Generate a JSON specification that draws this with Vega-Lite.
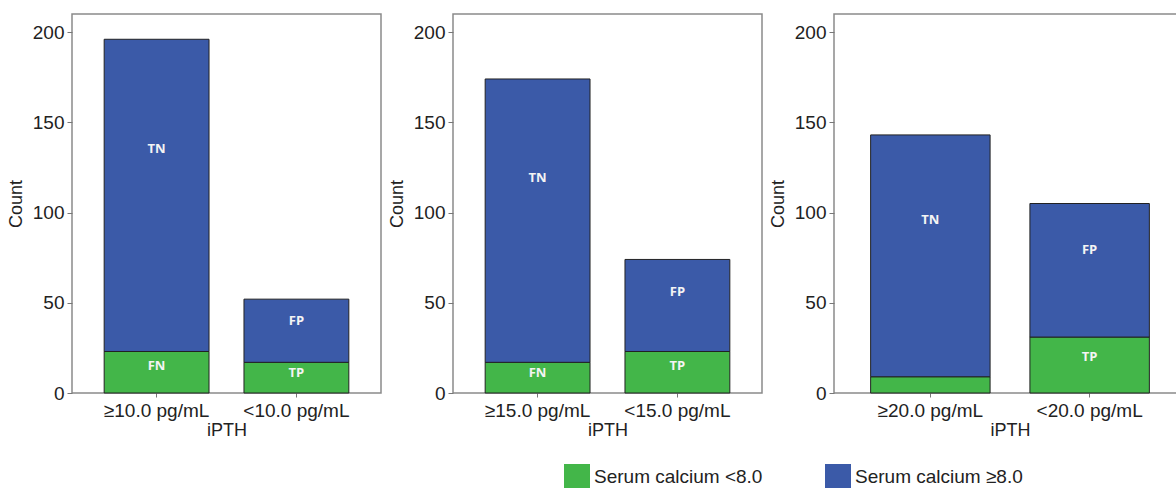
{
  "$schema": "https://vega.github.io/schema/vega-lite/v6.json",
  "padding": {"left": 6, "top": 13, "right": 0, "bottom": 0},
  "data": {"values": [
    {"panel": 1, "cat": "≥10.0 pg/mL", "calcium": "Serum calcium <8.0", "count": 23, "label": "FN", "order": 1},
    {"panel": 1, "cat": "≥10.0 pg/mL", "calcium": "Serum calcium ≥8.0", "count": 173, "label": "TN", "order": 2},
    {"panel": 1, "cat": "<10.0 pg/mL", "calcium": "Serum calcium <8.0", "count": 17, "label": "TP", "order": 1},
    {"panel": 1, "cat": "<10.0 pg/mL", "calcium": "Serum calcium ≥8.0", "count": 35, "label": "FP", "order": 2},
    {"panel": 2, "cat": "≥15.0 pg/mL", "calcium": "Serum calcium <8.0", "count": 17, "label": "FN", "order": 1},
    {"panel": 2, "cat": "≥15.0 pg/mL", "calcium": "Serum calcium ≥8.0", "count": 157, "label": "TN", "order": 2},
    {"panel": 2, "cat": "<15.0 pg/mL", "calcium": "Serum calcium <8.0", "count": 23, "label": "TP", "order": 1},
    {"panel": 2, "cat": "<15.0 pg/mL", "calcium": "Serum calcium ≥8.0", "count": 51, "label": "FP", "order": 2},
    {"panel": 3, "cat": "≥20.0 pg/mL", "calcium": "Serum calcium <8.0", "count": 9, "label": "", "order": 1},
    {"panel": 3, "cat": "≥20.0 pg/mL", "calcium": "Serum calcium ≥8.0", "count": 134, "label": "TN", "order": 2},
    {"panel": 3, "cat": "<20.0 pg/mL", "calcium": "Serum calcium <8.0", "count": 31, "label": "TP", "order": 1},
    {"panel": 3, "cat": "<20.0 pg/mL", "calcium": "Serum calcium ≥8.0", "count": 74, "label": "FP", "order": 2}
  ]},
  "transform": [
    {"stack": "count", "groupby": ["panel", "cat"], "sort": [{"field": "order"}], "as": ["y0", "y1"]},
    {"calculate": "datum.y0 + 0.65 * (datum.y1 - datum.y0)", "as": "ly"}
  ],
  "spacing": 5,
  "resolve": {"scale": {"color": "shared"}, "legend": {"color": "shared"}},
  "hconcat": [
    {
      "width": 309, "height": 379,
      "transform": [{"filter": "datum.panel == 1"}],
      "encoding": {"x": {"field": "cat", "type": "nominal", "sort": ["≥10.0 pg/mL", "<10.0 pg/mL"], "title": "iPTH", "scale": {"paddingInner": 0.25, "paddingOuter": 0.23}}},
      "layer": [
        {"mark": {"type": "bar", "stroke": "#222", "strokeWidth": 1},
         "encoding": {
           "y": {"field": "y0", "type": "quantitative", "scale": {"domain": [0, 210], "nice": false}, "title": "Count", "axis": {"values": [0, 50, 100, 150, 200]}},
           "y2": {"field": "y1"},
           "color": {"field": "calcium", "type": "nominal", "scale": {"domain": ["Serum calcium <8.0", "Serum calcium ≥8.0"], "range": ["#43b649", "#3b5aa8"]}}
         }},
        {"mark": {"type": "text", "color": "#f4f4f4", "fontWeight": "bold", "fontSize": 13, "font": "Open Sans"},
         "encoding": {"y": {"field": "ly", "type": "quantitative"}, "text": {"field": "label"}}}
      ]
    },
    {
      "width": 309, "height": 379,
      "transform": [{"filter": "datum.panel == 2"}],
      "encoding": {"x": {"field": "cat", "type": "nominal", "sort": ["≥15.0 pg/mL", "<15.0 pg/mL"], "title": "iPTH", "scale": {"paddingInner": 0.25, "paddingOuter": 0.23}}},
      "layer": [
        {"mark": {"type": "bar", "stroke": "#222", "strokeWidth": 1},
         "encoding": {
           "y": {"field": "y0", "type": "quantitative", "scale": {"domain": [0, 210], "nice": false}, "title": "Count", "axis": {"values": [0, 50, 100, 150, 200]}},
           "y2": {"field": "y1"},
           "color": {"field": "calcium", "type": "nominal", "scale": {"domain": ["Serum calcium <8.0", "Serum calcium ≥8.0"], "range": ["#43b649", "#3b5aa8"]}}
         }},
        {"mark": {"type": "text", "color": "#f4f4f4", "fontWeight": "bold", "fontSize": 13, "font": "Open Sans"},
         "encoding": {"y": {"field": "ly", "type": "quantitative"}, "text": {"field": "label"}}}
      ]
    },
    {
      "width": 352, "height": 379,
      "transform": [{"filter": "datum.panel == 3"}],
      "encoding": {"x": {"field": "cat", "type": "nominal", "sort": ["≥20.0 pg/mL", "<20.0 pg/mL"], "title": "iPTH", "scale": {"paddingInner": 0.25, "paddingOuter": 0.23}}},
      "layer": [
        {"mark": {"type": "bar", "stroke": "#222", "strokeWidth": 1},
         "encoding": {
           "y": {"field": "y0", "type": "quantitative", "scale": {"domain": [0, 210], "nice": false}, "title": "Count", "axis": {"values": [0, 50, 100, 150, 200]}},
           "y2": {"field": "y1"},
           "color": {"field": "calcium", "type": "nominal", "scale": {"domain": ["Serum calcium <8.0", "Serum calcium ≥8.0"], "range": ["#43b649", "#3b5aa8"]}}
         }},
        {"mark": {"type": "text", "color": "#f4f4f4", "fontWeight": "bold", "fontSize": 13, "font": "Open Sans"},
         "encoding": {"y": {"field": "ly", "type": "quantitative"}, "text": {"field": "label"}}}
      ]
    }
  ],
  "config": {
    "font": "Liberation Sans",
    "view": {"stroke": "#8a8a8a", "strokeWidth": 1.5},
    "axis": {"grid": false, "domain": false, "labelFontSize": 19, "titleFontSize": 18, "titleFontWeight": "normal", "labelColor": "#222", "titleColor": "#222", "tickColor": "#777", "labelFont": "Liberation Sans", "titleFont": "Liberation Sans"},
    "axisY": {"tickSize": 5, "labelPadding": 3, "titlePadding": 7},
    "axisX": {"tickSize": 4, "labelPadding": 4, "titlePadding": 1, "labelAngle": 0},
    "legend": {"orient": "none", "legendX": 492, "legendY": 450, "direction": "horizontal", "title": null, "symbolType": "square", "symbolSize": 676, "symbolStrokeWidth": 0, "symbolOpacity": 1, "labelFontSize": 19, "labelLimit": 400, "labelColor": "#222", "labelFont": "Liberation Sans", "labelOffset": 4, "columnPadding": 62}
  }
}
